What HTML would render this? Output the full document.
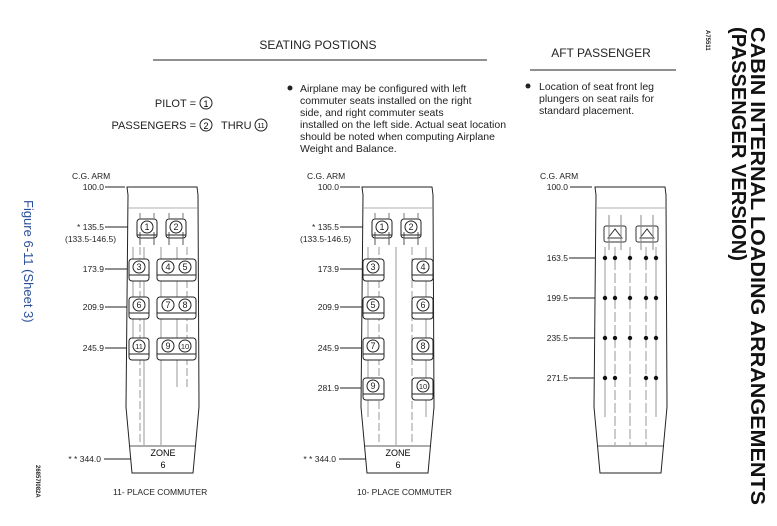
<!DOCTYPE html>
<html><head><meta charset="utf-8"><style>
body{margin:0;background:#fff;}
svg{display:block;font-family:"Liberation Sans",Arial,sans-serif;}
</style></head><body>
<svg width="777" height="526" viewBox="0 0 777 526" xmlns="http://www.w3.org/2000/svg">
<defs>
<g id="fus">
<path d="M0 0 L70 0 L71 8 L72 220 L66 286 L5 286 L-1 220 L1 8 Z" fill="#fff" stroke="#222" stroke-width="1"/>
<line x1="1" y1="21" x2="71" y2="21" stroke="#999" stroke-width="0.8"/>
<line x1="3" y1="259" x2="69" y2="259" stroke="#222" stroke-width="0.8"/>
</g>
<g id="fseat">
<rect x="-10" y="-10" width="20" height="19" rx="3" fill="#fff" stroke="#222"/>
<line x1="-7" y1="3" x2="-7" y2="16" stroke="#555"/><line x1="7" y1="3" x2="7" y2="16" stroke="#555"/>
<line x1="-7" y1="-16" x2="-7" y2="-10" stroke="#777"/><line x1="7" y1="-16" x2="7" y2="-10" stroke="#777"/>
<line x1="-10" y1="6" x2="10" y2="6" stroke="#222"/>
</g>
</defs>

<!-- Headers -->
<text x="318" y="49" font-size="12" text-anchor="middle" fill="#222">SEATING POSTIONS</text>
<line x1="153" y1="60" x2="487" y2="60" stroke="#222"/>
<text x="601" y="57" font-size="12" text-anchor="middle" fill="#222">AFT PASSENGER</text>
<line x1="530" y1="70" x2="676" y2="70" stroke="#222"/>

<text x="196" y="107" font-size="11" text-anchor="end" fill="#222">PILOT =</text>
<circle cx="206" cy="103" r="6" fill="none" stroke="#222"/><text x="206" y="107" font-size="9" text-anchor="middle">1</text>
<text x="196" y="129" font-size="11" text-anchor="end" fill="#222">PASSENGERS =</text>
<circle cx="206" cy="125" r="6" fill="none" stroke="#222"/><text x="206" y="129" font-size="9" text-anchor="middle">2</text>
<text x="221" y="129" font-size="11" fill="#222">THRU</text>
<circle cx="261" cy="125" r="6" fill="none" stroke="#222"/><text x="261" y="128" font-size="7" text-anchor="middle">11</text>

<g font-size="10.5" fill="#222">
<circle cx="290" cy="88" r="2.5" fill="#222"/>
<text x="300" y="92">Airplane may be configured with left</text>
<text x="300" y="104">commuter seats installed on the right</text>
<text x="300" y="116">side, and right commuter seats</text>
<text x="300" y="128">installed on the left side.  Actual seat location</text>
<text x="300" y="140">should be noted when computing Airplane</text>
<text x="300" y="152">Weight and Balance.</text>
<circle cx="528" cy="86" r="2.5" fill="#222"/>
<text x="539" y="90">Location of seat front leg</text>
<text x="539" y="102">plungers on seat rails for</text>
<text x="539" y="114">standard placement.</text>
</g>

<!-- Rotated side text -->
<text transform="translate(24,200) rotate(90)" font-size="13" fill="#2a4f9a">Figure 6-11 (Sheet 3)</text>
<text transform="translate(36,465) rotate(90)" font-size="6" font-weight="bold" fill="#222">26857I082A</text>
<text transform="translate(706,30) rotate(90)" font-size="6" font-weight="bold" fill="#222">A75511</text>
<text transform="translate(751,27) rotate(90)" font-size="20" font-weight="bold" fill="#111" textLength="478" lengthAdjust="spacingAndGlyphs">CABIN INTERNAL LOADING ARRANGEMENTS</text>
<text transform="translate(732,27) rotate(90)" font-size="20" font-weight="bold" fill="#111" textLength="234" lengthAdjust="spacingAndGlyphs">(PASSENGER VERSION)</text>

<!-- ===== Fuselage 1 ===== -->
<g font-size="8.5" fill="#222">
<text x="72" y="179">C.G. ARM</text>
<text x="104" y="190" text-anchor="end">100.0</text><line x1="105" y1="187" x2="125" y2="187" stroke="#222"/>
<text x="104" y="230" text-anchor="end">* 135.5</text><line x1="105" y1="227" x2="135" y2="227" stroke="#222"/>
<text x="65" y="242">(133.5-146.5)</text>
<text x="104" y="272" text-anchor="end">173.9</text><line x1="105" y1="269" x2="128" y2="269" stroke="#222"/>
<text x="104" y="310" text-anchor="end">209.9</text><line x1="105" y1="307" x2="128" y2="307" stroke="#222"/>
<text x="104" y="351" text-anchor="end">245.9</text><line x1="105" y1="348" x2="128" y2="348" stroke="#222"/>
<text x="101" y="462" text-anchor="end">* * 344.0</text><line x1="104" y1="459" x2="140" y2="459" stroke="#222"/>
<text x="113" y="495">11- PLACE COMMUTER</text>
</g>
<g transform="translate(127,187)"><use href="#fus"/>
<g stroke="#aaa" stroke-width="1.2">
<line x1="6" y1="60" x2="6" y2="160"/><line x1="13" y1="60" x2="13" y2="260" stroke-dasharray="8 3"/>
<line x1="17" y1="60" x2="17" y2="260"/><line x1="34" y1="60" x2="34" y2="260"/>
<line x1="50" y1="60" x2="50" y2="200"/><line x1="60" y1="60" x2="60" y2="200" stroke-dasharray="8 3"/>
</g>
<text x="36" y="269" font-size="9" text-anchor="middle">ZONE</text><text x="36" y="281" font-size="9" text-anchor="middle">6</text>
</g>
<use href="#fseat" x="147" y="229"/><use href="#fseat" x="176" y="229"/>
<g fill="#fff" stroke="#222">
<rect x="129" y="259" width="20" height="22" rx="3"/><rect x="157" y="259" width="39" height="22" rx="3"/>
<rect x="129" y="297" width="20" height="22" rx="3"/><rect x="157" y="297" width="39" height="22" rx="3"/>
<rect x="129" y="338" width="20" height="22" rx="3"/><rect x="157" y="338" width="39" height="22" rx="3"/>
</g>
<g stroke="#222" fill="none">
<line x1="129" y1="275" x2="149" y2="275"/><line x1="157" y1="275" x2="196" y2="275"/>
<line x1="129" y1="313" x2="149" y2="313"/><line x1="157" y1="313" x2="196" y2="313"/>
<line x1="129" y1="354" x2="149" y2="354"/><line x1="157" y1="354" x2="196" y2="354"/>
<circle cx="147" cy="227" r="6"/><circle cx="176" cy="227" r="6"/>
<circle cx="139" cy="267" r="6"/><circle cx="168" cy="267" r="6"/><circle cx="185" cy="267" r="6"/>
<circle cx="139" cy="305" r="6"/><circle cx="168" cy="305" r="6"/><circle cx="185" cy="305" r="6"/>
<circle cx="139" cy="346" r="6"/><circle cx="168" cy="346" r="6"/><circle cx="185" cy="346" r="6"/>
</g>
<g font-size="9" text-anchor="middle" fill="#222">
<text x="147" y="230">1</text><text x="176" y="230">2</text>
<text x="139" y="270">3</text><text x="168" y="270">4</text><text x="185" y="270">5</text>
<text x="139" y="308">6</text><text x="168" y="308">7</text><text x="185" y="308">8</text>
<text x="139" y="349" font-size="7.5">11</text><text x="168" y="349">9</text><text x="185" y="349" font-size="7.5">10</text>
</g>

<!-- ===== Fuselage 2 ===== -->
<g font-size="8.5" fill="#222">
<text x="307" y="179">C.G. ARM</text>
<text x="339" y="190" text-anchor="end">100.0</text><line x1="340" y1="187" x2="360" y2="187" stroke="#222"/>
<text x="339" y="230" text-anchor="end">* 135.5</text><line x1="340" y1="227" x2="370" y2="227" stroke="#222"/>
<text x="300" y="242">(133.5-146.5)</text>
<text x="339" y="272" text-anchor="end">173.9</text><line x1="340" y1="269" x2="363" y2="269" stroke="#222"/>
<text x="339" y="310" text-anchor="end">209.9</text><line x1="340" y1="307" x2="363" y2="307" stroke="#222"/>
<text x="339" y="351" text-anchor="end">245.9</text><line x1="340" y1="348" x2="363" y2="348" stroke="#222"/>
<text x="339" y="391" text-anchor="end">281.9</text><line x1="340" y1="388" x2="363" y2="388" stroke="#222"/>
<text x="336" y="462" text-anchor="end">* * 344.0</text><line x1="339" y1="459" x2="375" y2="459" stroke="#222"/>
<text x="357" y="495">10- PLACE COMMUTER</text>
</g>
<g transform="translate(362,187)"><use href="#fus"/>
<g stroke="#aaa" stroke-width="1.2">
<line x1="6" y1="60" x2="6" y2="230"/><line x1="17" y1="60" x2="17" y2="260" stroke-dasharray="8 3"/>
<line x1="34" y1="60" x2="34" y2="260"/><line x1="50" y1="60" x2="50" y2="260" stroke-dasharray="8 3"/>
<line x1="64" y1="60" x2="64" y2="230"/>
</g>
<text x="36" y="269" font-size="9" text-anchor="middle">ZONE</text><text x="36" y="281" font-size="9" text-anchor="middle">6</text>
</g>
<use href="#fseat" x="382" y="229"/><use href="#fseat" x="411" y="229"/>
<g fill="#fff" stroke="#222">
<rect x="363" y="259" width="21" height="22" rx="3"/><rect x="412" y="259" width="21" height="22" rx="3"/>
<rect x="363" y="297" width="21" height="22" rx="3"/><rect x="412" y="297" width="21" height="22" rx="3"/>
<rect x="363" y="338" width="21" height="22" rx="3"/><rect x="412" y="338" width="21" height="22" rx="3"/>
<rect x="363" y="378" width="21" height="22" rx="3"/><rect x="412" y="378" width="21" height="22" rx="3"/>
</g>
<g stroke="#222" fill="none">
<line x1="363" y1="275" x2="384" y2="275"/><line x1="412" y1="275" x2="433" y2="275"/>
<line x1="363" y1="313" x2="384" y2="313"/><line x1="412" y1="313" x2="433" y2="313"/>
<line x1="363" y1="354" x2="384" y2="354"/><line x1="412" y1="354" x2="433" y2="354"/>
<line x1="363" y1="394" x2="384" y2="394"/><line x1="412" y1="394" x2="433" y2="394"/>
<circle cx="382" cy="227" r="6"/><circle cx="411" cy="227" r="6"/>
<circle cx="373" cy="267" r="6"/><circle cx="423" cy="267" r="6"/>
<circle cx="373" cy="305" r="6"/><circle cx="423" cy="305" r="6"/>
<circle cx="373" cy="346" r="6"/><circle cx="423" cy="346" r="6"/>
<circle cx="373" cy="386" r="6"/><circle cx="423" cy="386" r="6"/>
</g>
<g font-size="9" text-anchor="middle" fill="#222">
<text x="382" y="230">1</text><text x="411" y="230">2</text>
<text x="373" y="270">3</text><text x="423" y="270">4</text>
<text x="373" y="308">5</text><text x="423" y="308">6</text>
<text x="373" y="349">7</text><text x="423" y="349">8</text>
<text x="373" y="389">9</text><text x="423" y="389" font-size="7.5">10</text>
</g>

<!-- ===== Fuselage 3 ===== -->
<g font-size="8.5" fill="#222">
<text x="540" y="179">C.G. ARM</text>
<text x="568" y="190" text-anchor="end">100.0</text><line x1="570" y1="187" x2="592" y2="187" stroke="#222"/>
<text x="568" y="261" text-anchor="end">163.5</text><line x1="569" y1="258" x2="604" y2="258" stroke="#222"/>
<text x="568" y="301" text-anchor="end">199.5</text><line x1="569" y1="298" x2="604" y2="298" stroke="#222"/>
<text x="568" y="341" text-anchor="end">235.5</text><line x1="569" y1="338" x2="604" y2="338" stroke="#222"/>
<text x="568" y="381" text-anchor="end">271.5</text><line x1="569" y1="378" x2="604" y2="378" stroke="#222"/>
</g>
<g transform="translate(595,187)"><use href="#fus"/>
<g stroke="#aaa" stroke-width="1.2">
<line x1="10" y1="60" x2="10" y2="230"/><line x1="20" y1="60" x2="20" y2="260" stroke-dasharray="10 3"/>
<line x1="35" y1="60" x2="35" y2="260" stroke-dasharray="10 3"/><line x1="51" y1="60" x2="51" y2="260" stroke-dasharray="10 3"/>
<line x1="61" y1="60" x2="61" y2="230"/>
</g>
</g>
<g fill="none" stroke="#333">
<rect x="604" y="226" width="22" height="16" rx="2"/><rect x="636" y="226" width="22" height="16" rx="2"/>
<path d="M608 238 L615 229 L622 238 Z M640 238 L647 229 L654 238 Z"/>
<line x1="609" y1="215" x2="609" y2="250" stroke="#888"/><line x1="621" y1="215" x2="621" y2="250" stroke="#888"/>
<line x1="641" y1="215" x2="641" y2="250" stroke="#888"/><line x1="653" y1="215" x2="653" y2="250" stroke="#888"/>
</g>
<g fill="#111">
<circle cx="605" cy="258" r="2.2"/><circle cx="615" cy="258" r="2.2"/><circle cx="630" cy="258" r="2.2"/><circle cx="646" cy="258" r="2.2"/><circle cx="656" cy="258" r="2.2"/>
<circle cx="605" cy="298" r="2.2"/><circle cx="615" cy="298" r="2.2"/><circle cx="630" cy="298" r="2.2"/><circle cx="646" cy="298" r="2.2"/><circle cx="656" cy="298" r="2.2"/>
<circle cx="605" cy="338" r="2.2"/><circle cx="615" cy="338" r="2.2"/><circle cx="630" cy="338" r="2.2"/><circle cx="646" cy="338" r="2.2"/><circle cx="656" cy="338" r="2.2"/>
<circle cx="605" cy="378" r="2.2"/><circle cx="615" cy="378" r="2.2"/><circle cx="646" cy="378" r="2.2"/><circle cx="656" cy="378" r="2.2"/>
</g>
</svg>
</body></html>
